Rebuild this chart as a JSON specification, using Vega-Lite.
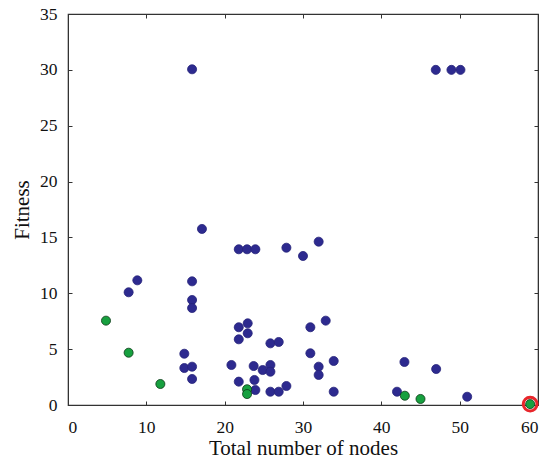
{
  "$schema": "https://vega.github.io/schema/vega-lite/v6.json",
  "autosize": "none",
  "width": 470,
  "height": 391,
  "padding": {"left": 68, "top": 14, "right": 14, "bottom": 61},
  "background": "white",
  "config": {
    "view": {"stroke": "#333", "strokeWidth": 1.2},
    "axis": {
      "labelFont": "Liberation Serif",
      "titleFont": "Liberation Serif",
      "labelFontSize": 17.5,
      "titleFontSize": 21,
      "labelColor": "#111",
      "titleColor": "#111",
      "titleFontWeight": "normal",
      "domainColor": "#333",
      "tickColor": "#333",
      "tickSize": -4,
      "grid": false
    }
  },
  "data": {
    "values": [
      {"nodes": 4.85, "fitness": 7.55, "group": "green"},
      {"nodes": 7.74, "fitness": 10.09, "group": "blue"},
      {"nodes": 8.85, "fitness": 11.16, "group": "blue"},
      {"nodes": 7.74, "fitness": 4.68, "group": "green"},
      {"nodes": 11.79, "fitness": 1.88, "group": "green"},
      {"nodes": 15.84, "fitness": 11.07, "group": "blue"},
      {"nodes": 15.84, "fitness": 9.4, "group": "blue"},
      {"nodes": 15.84, "fitness": 8.68, "group": "blue"},
      {"nodes": 14.85, "fitness": 4.59, "group": "blue"},
      {"nodes": 14.85, "fitness": 3.31, "group": "blue"},
      {"nodes": 15.84, "fitness": 3.43, "group": "blue"},
      {"nodes": 15.84, "fitness": 2.33, "group": "blue"},
      {"nodes": 17.1, "fitness": 15.76, "group": "blue"},
      {"nodes": 21.8, "fitness": 13.94, "group": "blue"},
      {"nodes": 22.86, "fitness": 13.94, "group": "blue"},
      {"nodes": 23.92, "fitness": 13.94, "group": "blue"},
      {"nodes": 27.88, "fitness": 14.08, "group": "blue"},
      {"nodes": 30.0, "fitness": 13.34, "group": "blue"},
      {"nodes": 32.0, "fitness": 14.62, "group": "blue"},
      {"nodes": 22.94, "fitness": 7.31, "group": "blue"},
      {"nodes": 21.8, "fitness": 6.96, "group": "blue"},
      {"nodes": 22.94, "fitness": 6.42, "group": "blue"},
      {"nodes": 21.8, "fitness": 5.88, "group": "blue"},
      {"nodes": 25.84, "fitness": 5.52, "group": "blue"},
      {"nodes": 26.9, "fitness": 5.64, "group": "blue"},
      {"nodes": 30.94, "fitness": 6.96, "group": "blue"},
      {"nodes": 32.9, "fitness": 7.55, "group": "blue"},
      {"nodes": 30.94, "fitness": 4.63, "group": "blue"},
      {"nodes": 33.92, "fitness": 3.94, "group": "blue"},
      {"nodes": 20.86, "fitness": 3.58, "group": "blue"},
      {"nodes": 23.7, "fitness": 3.49, "group": "blue"},
      {"nodes": 24.85, "fitness": 3.13, "group": "blue"},
      {"nodes": 25.84, "fitness": 3.58, "group": "blue"},
      {"nodes": 25.84, "fitness": 2.98, "group": "blue"},
      {"nodes": 32.0, "fitness": 3.43, "group": "blue"},
      {"nodes": 32.0, "fitness": 2.69, "group": "blue"},
      {"nodes": 21.8, "fitness": 2.09, "group": "blue"},
      {"nodes": 23.8, "fitness": 2.24, "group": "blue"},
      {"nodes": 23.92, "fitness": 1.34, "group": "blue"},
      {"nodes": 25.84, "fitness": 1.19, "group": "blue"},
      {"nodes": 26.9, "fitness": 1.19, "group": "blue"},
      {"nodes": 27.88, "fitness": 1.7, "group": "blue"},
      {"nodes": 33.92, "fitness": 1.19, "group": "blue"},
      {"nodes": 42.95, "fitness": 3.85, "group": "blue"},
      {"nodes": 47.0, "fitness": 3.22, "group": "blue"},
      {"nodes": 42.0, "fitness": 1.19, "group": "blue"},
      {"nodes": 50.96, "fitness": 0.74, "group": "blue"},
      {"nodes": 15.84, "fitness": 30.05, "group": "blue"},
      {"nodes": 46.95, "fitness": 30.0, "group": "blue"},
      {"nodes": 48.95, "fitness": 30.0, "group": "blue"},
      {"nodes": 50.1, "fitness": 30.0, "group": "blue"},
      {"nodes": 22.86, "fitness": 1.41, "group": "green"},
      {"nodes": 22.86, "fitness": 0.98, "group": "green"},
      {"nodes": 43.0, "fitness": 0.83, "group": "green"},
      {"nodes": 45.0, "fitness": 0.54, "group": "green"},
      {"nodes": 59.0, "fitness": 0.08, "group": "best"}
    ]
  },
  "resolve": {"axis": {"x": "independent", "y": "independent"}},
  "layer": [
    {
      "transform": [{"filter": "datum.group === 'best'"}],
      "mark": {"type": "point", "filled": false, "size": 190, "stroke": "#e8262b", "strokeWidth": 3, "opacity": 1},
      "encoding": {
        "x": {"field": "nodes", "type": "quantitative", "scale": {"domain": [0, 60], "nice": false}, "axis": {"orient": "top", "labels": false, "title": null, "values": [0,10,20,30,40,50,60]}},
        "y": {"field": "fitness", "type": "quantitative", "scale": {"domain": [0, 35], "nice": false}, "axis": {"orient": "right", "labels": false, "title": null, "values": [0,5,10,15,20,25,30,35]}}
      }
    },
    {
      "mark": {"type": "circle", "size": 82, "opacity": 1, "strokeWidth": 0.8},
      "encoding": {
        "x": {"field": "nodes", "type": "quantitative", "scale": {"domain": [0, 60], "nice": false}, "axis": {"orient": "bottom", "title": "Total number of nodes", "values": [0,10,20,30,40,50,60], "labelPadding": 17, "titlePadding": 2}},
        "y": {"field": "fitness", "type": "quantitative", "scale": {"domain": [0, 35], "nice": false}, "axis": {"orient": "left", "title": "Fitness", "values": [0,5,10,15,20,25,30,35], "labelPadding": 15, "titlePadding": 7}},
        "color": {"field": "group", "type": "nominal", "scale": {"domain": ["blue", "green", "best"], "range": ["#2d2a8f", "#17a03f", "#17a03f"]}, "legend": null},
        "stroke": {"field": "group", "type": "nominal", "scale": {"domain": ["blue", "green", "best"], "range": ["#26237a", "#0b3a16", "#0b3a16"]}, "legend": null}
      }
    }
  ]
}
